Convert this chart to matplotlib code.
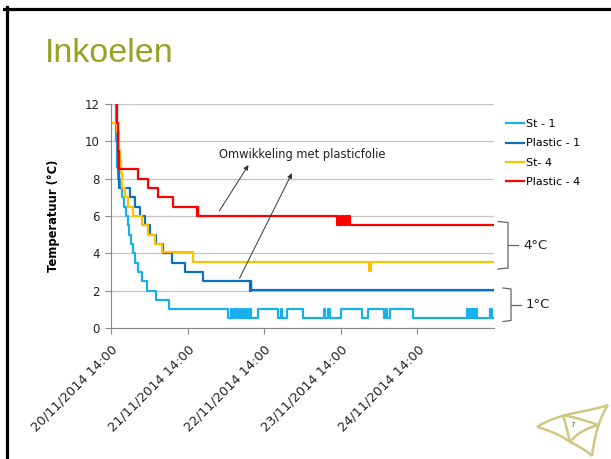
import matplotlib as mpl
mpl.use("Agg")
import matplotlib.pyplot as plt
from matplotlib.lines import Line2D
from matplotlib.path import Path
from matplotlib.patches import PathPatch

W, H = 611, 459

# logged temperatures, hours since 20/11/2014 14:00 where the value changes
st1_t = [1.25, 1.57, 1.79, 2.20, 2.82, 3.45, 4.08, 4.71, 5.18, 5.65, 6.12, 7.00,
         7.53, 8.56, 9.63, 11.2, 14.12, 18.2,
         36.71, 37.65, 37.96, 38.59, 39.06, 39.53, 40.16, 40.63, 41.10, 41.73,
         42.04, 42.67, 42.98, 43.61, 43.92, 46.12, 52.39, 53.18, 53.49, 55.22,
         60.24, 66.82, 67.14, 68.08, 68.71, 72.16, 78.75, 80.63, 85.65, 86.27,
         86.59, 87.53, 94.75, 111.69, 112.0, 112.31, 112.63, 113.10, 113.41,
         113.88, 114.2, 114.51, 114.82, 118.9, 119.22, 120.2]
st1_v = [13, 10, 8.6, 8, 7.5, 7, 6.5, 6, 5.5, 5, 4.5, 4,
         3.5, 3, 2.5, 2, 1.5, 1.0,
         0.55, 1.0, 0.55, 1.0, 0.55, 1.0, 0.55, 1.0, 0.55, 1.0,
         0.55, 1.0, 0.55, 1.0, 0.55, 1.0, 0.55, 1.0, 0.55, 1.0,
         0.55, 1.0, 0.55, 1.0, 0.55, 1.0, 0.55, 1.0, 0.55, 1.0,
         0.55, 1.0, 0.55, 1.0, 0.55, 1.0, 0.55, 1.0, 0.55,
         1.0, 0.55, 1.0, 0.55, 1.0, 0.55, 0.55]

pl1_t = [1.57, 1.88, 2.04, 2.60, 5.96, 7.53, 9.10, 10.67, 12.24, 14.12, 16.41,
         19.04, 23.22, 28.96, 43.45, 43.76, 44.02, 120.2]
pl1_v = [13, 10.5, 8.5, 7.5, 7.0, 6.5, 6.0, 5.5, 5.0, 4.5, 4.0,
         3.5, 3.0, 2.5, 2.0, 2.5, 2.05, 2.05]

st4_t = [0.0, 1.79, 2.35, 2.67, 2.98, 3.29, 4.24, 5.33, 7.0, 9.63, 11.7, 13.8,
         15.9, 25.57, 80.94, 81.41, 120.2]
st4_v = [11.0, 10.5, 9.5, 9.0, 8.3, 7.5, 7.0, 6.5, 6.0, 5.5, 5.0, 4.5,
         4.05, 3.55, 3.05, 3.55, 3.55]

pl4_t = [1.57, 1.88, 2.20, 2.51, 8.56, 11.70, 14.84, 19.55, 26.82, 27.14, 27.39,
         70.81, 71.31, 71.84, 72.38, 73.0, 73.5, 73.9, 74.4,
         74.76, 120.2]
pl4_v = [13, 11.0, 9.5, 8.5, 8.0, 7.5, 7.0, 6.5, 6.0, 6.5, 6.0,
         5.5, 6.0, 5.5, 6.0, 5.5, 6.0, 5.5, 6.0,
         5.5, 5.5]

series = [
    ("St - 1", st1_t, st1_v, "#17b0ec"),
    ("Plastic - 1", pl1_t, pl1_v, "#0a70c0"),
    ("St- 4", st4_t, st4_v, "#ffc000"),
    ("Plastic - 4", pl4_t, pl4_v, "#ff0000"),
]

tick_hours = [0, 24, 48, 72, 96]
tick_labels = ["20/11/2014 14:00", "21/11/2014 14:00", "22/11/2014 14:00",
               "23/11/2014 14:00", "24/11/2014 14:00"]

plt.rcParams["font.family"] = "DejaVu Sans"


def fx(x):
    return x / W


def fy(y):
    return 1 - y / H


fig = plt.figure(figsize=(W / 100, H / 100), dpi=100)
ax = fig.add_axes([fx(111), fy(328), fx(494) - fx(111), fy(104) - fy(328)])

for label, t, v, color in series:
    ax.step(t, v, where="post", color=color, lw=1.6, label=label)

ax.set_xlim(0, 120)
ax.set_ylim(0, 12)
ax.set_yticks(range(0, 13, 2))
ax.set_xticks(tick_hours)
ax.set_xticklabels(tick_labels, rotation=45, ha="right", rotation_mode="anchor",
                   fontsize=9.3, color="#222222")
ax.tick_params(axis="y", labelsize=8.5, labelcolor="#222222", length=4,
               color="#888888", pad=4)
ax.tick_params(axis="x", length=4, color="#888888", pad=7)
ax.grid(axis="y", color="#c4c4c4", lw=0.9)
ax.set_axisbelow(True)
for side in ["top", "right"]:
    ax.spines[side].set_visible(False)
for side in ["left", "bottom"]:
    ax.spines[side].set_color("#888888")
ax.set_ylabel("Temperatuur (°C)", fontsize=8.3, fontweight="bold", labelpad=18)

ax.legend(loc="upper left", bbox_to_anchor=(fx(506), fy(119)),
          bbox_transform=fig.transFigure, frameon=False, fontsize=8,
          handlelength=1.6, handletextpad=0.2, labelspacing=0.85,
          borderpad=0, borderaxespad=0)

# annotation
ax.text(59.9, 9.27, "Omwikkeling met plasticfolie", fontsize=8.3,
        ha="center", va="center", color="#222222")
arrow = dict(arrowstyle="-|>", color="#333333", lw=0.7, mutation_scale=7,
             shrinkA=0, shrinkB=0)
ax.annotate("", xy=(43.07, 8.73), xytext=(33.98, 6.28), arrowprops=arrow)
ax.annotate("", xy=(56.69, 8.29), xytext=(40.25, 2.66), arrowprops=arrow)


# braces for the two storage temperatures
def brace(top, bottom, x0, x1, x2, label):
    mid = (top + bottom) / 2
    xs = [fx(x0), fx(x1), fx(x1), fx(x0)]
    ys = [fy(top), fy(top + 1), fy(bottom - 1), fy(bottom)]
    fig.add_artist(Line2D(xs, ys, color="#666666", lw=0.9))
    fig.add_artist(Line2D([fx(x1), fx(x2)], [fy(mid), fy(mid)],
                          color="#666666", lw=0.9))
    fig.text(fx(x2 + 5), fy(mid), label, fontsize=9.5, va="center",
             color="#222222")


brace(221.5, 269, 498, 508, 518, "4°C")
brace(288, 321.5, 503, 511, 521, "1°C")

# slide title and frame
fig.text(fx(45), fy(62), "Inkoelen", fontsize=24.5, color="#9aa023",
         family="Liberation Sans", va="baseline")
fig.add_artist(Line2D([fx(4), 1], [fy(8.5), fy(8.5)], color="black", lw=2.3))
fig.add_artist(Line2D([fx(6.5), fx(6.5)], [fy(7), 0], color="black", lw=2.3))

# small logo in the corner
logo = "#cfc883"
curves = [
    [(537, 427), (560, 412), (590, 412), (608, 405)],
    [(608, 405), (598, 420), (594, 440), (592, 456)],
    [(537, 427), (555, 432), (565, 438), (570, 442)],
    [(563, 415), (566, 425), (568, 434), (570, 442)],
    [(563, 415), (578, 418), (590, 422), (598, 425)],
    [(570, 442), (578, 432), (588, 428), (598, 425)],
    [(570, 442), (578, 446), (586, 450), (592, 456)],
]
for pts in curves:
    verts = [(fx(x), fy(y)) for x, y in pts]
    p = Path(verts, [Path.MOVETO, Path.CURVE4, Path.CURVE4, Path.CURVE4])
    fig.add_artist(PathPatch(p, fill=False, edgecolor=logo, lw=1.8,
                             transform=fig.transFigure))
fig.text(fx(573), fy(425), "7", fontsize=5, color="#555555",
         ha="center", va="center")

fig.savefig("out.png", dpi=100)
